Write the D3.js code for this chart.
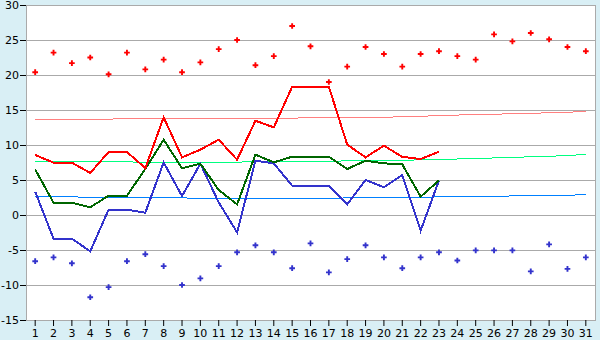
<!DOCTYPE html>
<html><head><meta charset="utf-8">
<script src="https://cdn.jsdelivr.net/npm/d3@7"></script>
<style>
html,body{margin:0;padding:0;background:#d9eff5;}
svg{display:block;}
text{font-family:"DejaVu Sans",Verdana,sans-serif;font-size:11px;fill:#000;}
</style></head><body>
<svg id="c" width="600" height="340"></svg>
<script>
const days = d3.range(1, 32);
const yTicks = [-15, -10, -5, 0, 5, 10, 15, 20, 25, 30];

// daily extremes (points)
const maxPoints = [20.4,23.2,21.7,22.5,20.1,23.2,20.8,22.2,20.4,21.8,23.7,25.0,21.4,22.7,27.0,24.1,19.0,21.2,24.0,23.0,21.2,23.0,23.4,22.7,22.2,25.8,24.8,26.0,25.1,24.0,23.4];
const minPoints = [-6.6,-6.05,-6.9,-11.75,-10.3,-6.6,-5.6,-7.3,-10.0,-9.05,-7.3,-5.33,-4.33,-5.33,-7.6,-4.05,-8.2,-6.3,-4.33,-6.05,-7.6,-6.05,-5.33,-6.5,-5.05,-5.05,-5.05,-8.05,-4.2,-7.7,-6.05];

// lines (days 1..23)
const maxLine = [8.57,7.48,7.48,6.0,9.0,9.0,6.7,13.95,8.24,9.33,10.76,7.9,13.47,12.52,18.33,18.33,18.33,10.05,8.24,9.9,8.3,8.0,9.05];
const avgLine = [6.5,1.76,1.76,1.1,2.76,2.76,6.57,10.76,6.67,7.33,3.57,1.52,8.62,7.52,8.33,8.33,8.33,6.57,7.76,7.38,7.24,2.62,4.95];
const minLine = [3.33,-3.38,-3.38,-5.19,0.76,0.76,0.33,7.52,2.71,7.33,1.8,-2.48,7.76,7.38,4.19,4.19,4.19,1.52,5.0,3.95,5.71,-2.24,4.95];

// trend lines (days 1..31)
const maxTrend = [13.71,13.71,13.71,13.71,13.71,13.72,13.72,13.73,13.74,13.75,13.77,13.79,13.81,13.83,13.85,13.87,13.89,13.92,13.95,13.98,14.02,14.10,14.20,14.28,14.34,14.40,14.46,14.53,14.60,14.68,14.80];
const avgTrend = [7.67,7.65,7.63,7.61,7.60,7.58,7.55,7.54,7.53,7.53,7.54,7.56,7.60,7.63,7.66,7.68,7.70,7.72,7.74,7.77,7.81,7.88,7.94,8.00,8.08,8.15,8.24,8.31,8.38,8.50,8.65];
const minTrend = [2.71,2.62,2.58,2.55,2.52,2.50,2.47,2.45,2.43,2.42,2.41,2.40,2.40,2.40,2.41,2.41,2.42,2.43,2.45,2.48,2.52,2.55,2.58,2.63,2.66,2.69,2.72,2.75,2.79,2.84,2.88];

const L = 26, R = 595, T = 5, B = 320;
const svg = d3.select("#c");
const x = d3.scaleBand().domain(days).range([L, R]);
const cx = d => x(d) + x.bandwidth() / 2;
const y = d3.scaleLinear().domain([-15, 30]).range([B, T]);

svg.append("rect").attr("x", L).attr("y", T).attr("width", R - L).attr("height", B - T).attr("fill", "#fff");

// grid
svg.append("g").selectAll("line").data(yTicks).join("line")
  .attr("x1", L).attr("x2", R).attr("y1", d => Math.round(y(d)) + 0.5).attr("y2", d => Math.round(y(d)) + 0.5)
  .attr("stroke", "#aaaaaa");
svg.append("line").attr("x1", L + 0.5).attr("x2", L + 0.5).attr("y1", T).attr("y2", B + 1).attr("stroke", "#aaaaaa");
svg.append("line").attr("x1", R + 0.5).attr("x2", R + 0.5).attr("y1", T).attr("y2", B + 1).attr("stroke", "#aaaaaa");

// axes
const yAxis = d3.axisLeft(y).tickValues(yTicks).tickSize(6).tickPadding(1).tickFormat(d => String(d));
const gy = svg.append("g").attr("transform", `translate(${L},0)`).call(yAxis);
gy.select(".domain").remove();
gy.selectAll(".tick line").attr("stroke", "#000");
gy.selectAll("text").style("font-size", "11px").style("font-family", "DejaVu Sans");

const xAxis = d3.axisBottom(x).tickSize(6).tickPadding(3);
const gx = svg.append("g").attr("transform", `translate(0,${B})`).call(xAxis);
gx.select(".domain").remove();
gx.selectAll(".tick line").attr("stroke", "#000");
gx.selectAll("text").style("font-size", "11px").style("font-family", "DejaVu Sans");

const line = d3.line().x((d, i) => cx(days[i])).y(d => y(d));

function drawLine(data, color, w) {
  svg.append("path").datum(data).attr("d", line).attr("fill", "none")
    .attr("stroke", color).attr("stroke-width", w).attr("shape-rendering", "crispEdges");
}
drawLine(maxTrend, "#ff8080", 1);
drawLine(avgTrend, "#00ff80", 1);
drawLine(minTrend, "#0080ff", 1);
drawLine(minLine, "#3333cc", 2);
drawLine(avgLine, "#006600", 2);
drawLine(maxLine, "#ff0000", 2);

const sym = d3.symbol().type(d3.symbolCross).size(18);
svg.append("g").selectAll("path").data(maxPoints).join("path")
  .attr("transform", (d, i) => `translate(${cx(days[i])},${y(d)})`).attr("d", sym).attr("fill", "#ff0000");
svg.append("g").selectAll("path").data(minPoints).join("path")
  .attr("transform", (d, i) => `translate(${cx(days[i])},${y(d)})`).attr("d", sym).attr("fill", "#3333cc");
</script>
</body></html>
